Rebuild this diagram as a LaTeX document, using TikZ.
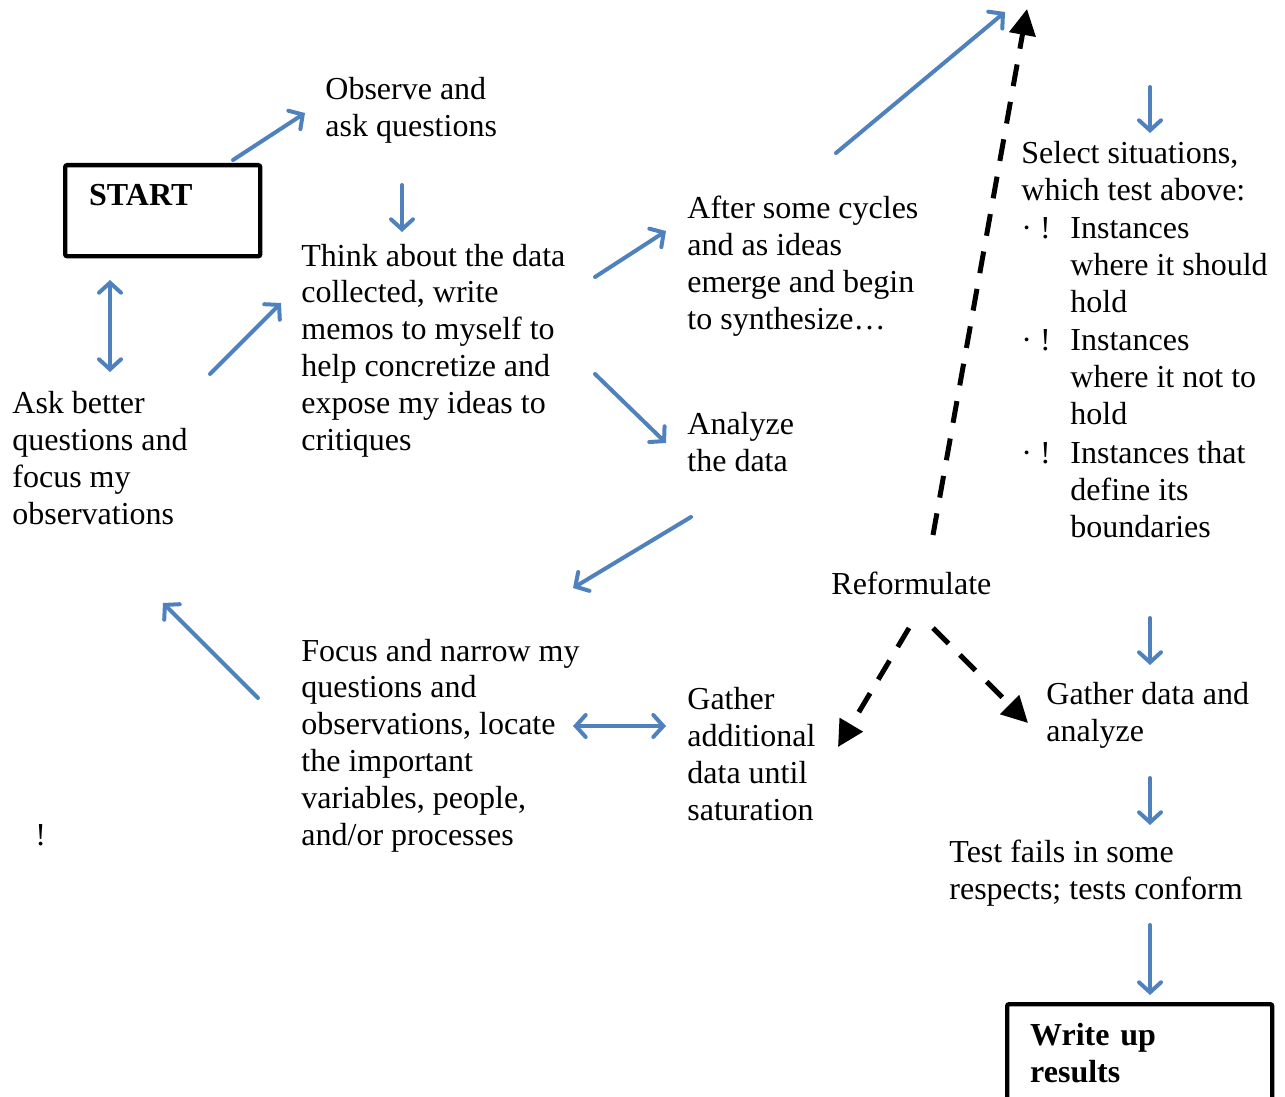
\documentclass[tikz,border=0pt]{standalone}
\usepackage{fontspec}
\setmainfont{Liberation Serif}
\usetikzlibrary{arrows.meta}

\definecolor{flowblue}{HTML}{4F81BD}
\tikzset{
  % placed at the baseline of the last line
  txt/.style={anchor=base west,inner sep=0pt,align=left,font=\fontsize{16}{18.4}\selectfont},
  frame/.style={draw,line width=2.2pt,rounded corners=1pt,anchor=north west,align=left,
    font=\fontsize{16}{18.4}\selectfont\bfseries},
  flow/.style={draw=flowblue,line width=2pt,line cap=round,
    -{Straight Barb[length=5pt,width=11pt,line cap=round]}},
  flowboth/.style={flow,{Straight Barb[length=5pt,width=11pt,line cap=round]}-{Straight Barb[length=5pt,width=11pt,line cap=round]}},
  retry/.style={draw,line width=2.5pt,dash pattern=on 11pt off 8pt,
    -{Triangle[length=13pt,width=13pt]}}
}

\begin{document}
\begin{tikzpicture}[x=0.5pt,y=-0.5pt]
  \useasboundingbox (0,0) rectangle (1285,1097);

  % boxes
  \node[frame,inner xsep=12pt,inner ysep=0pt,text width=73.5pt,text height=20pt,text depth=25.5pt]
    (start) at (63,163) {START};
  \node[frame,inner xsep=11.5pt,inner ysep=9.7pt,text width=109.5pt]
    (writeup) at (1005,1002) {Write up\\results};

  % texts
  \node[txt] (observe) at (325,136) {Observe and\\ask questions};
  \node[txt] (think) at (301,450) {Think about the data\\collected, write\\memos to myself to\\help concretize and\\expose my ideas to\\critiques};
  \node[txt] (after) at (687,329) {After some cycles\\and as ideas\\emerge and begin\\to synthesize\ldots};
  \node[txt] (analyze) at (687,471) {Analyze\\the data};
  \node[txt] (select) at (1021,200) {Select situations,\\which test above:};
  \node[txt] (mark1) at (1021,238) {·\ !};
  \node[txt] (item1) at (1070,312) {Instances\\where it should\\hold};
  \node[txt] (mark2) at (1021,350) {·\ !};
  \node[txt] (item2) at (1070,424) {Instances\\where it not to\\hold};
  \node[txt] (mark3) at (1021,463) {·\ !};
  \node[txt] (item3) at (1070,537) {Instances that\\define its\\boundaries};
  \node[txt] (ask) at (12,524) {Ask better\\questions and\\focus my\\observations};
  \node[txt] (reform) at (831,594) {Reformulate};
  \node[txt] (focus) at (301,845) {Focus and narrow my\\questions and\\observations, locate\\the important\\variables, people,\\and/or processes};
  \node[txt] (gather) at (687,820) {Gather\\additional\\data until\\saturation};
  \node[txt] (gatherdata) at (1046,741) {Gather data and\\analyze};
  \node[txt] (test) at (949,899) {Test fails in some\\respects; tests conform};
  \node[txt] (excl) at (35,845) {!};

  % arrow ends
  \coordinate (a1s) at (233,160);  \coordinate (a1e) at (305,113);
  \coordinate (a2s) at (402,185);  \coordinate (a2e) at (402,232);
  \coordinate (a3s) at (110,280);  \coordinate (a3e) at (110,372);
  \coordinate (a4s) at (210,374);  \coordinate (a4e) at (281,303);
  \coordinate (a5s) at (595,277);  \coordinate (a5e) at (666,231);
  \coordinate (a6s) at (595,374);  \coordinate (a6e) at (666,443);
  \coordinate (a7s) at (836,153);  \coordinate (a7e) at (1005,12);
  \coordinate (a8s) at (1150,87);  \coordinate (a8e) at (1150,133);
  \coordinate (a9s) at (691,517);  \coordinate (a9e) at (573,588);
  \coordinate (a10s) at (258,698); \coordinate (a10e) at (163,603);
  \coordinate (a11s) at (573,726); \coordinate (a11e) at (666,726);
  \coordinate (a12s) at (1150,618); \coordinate (a12e) at (1150,665);
  \coordinate (a13s) at (1150,778); \coordinate (a13e) at (1150,825);
  \coordinate (a14s) at (1150,925); \coordinate (a14e) at (1150,995);
  \coordinate (r1s) at (933,535);  \coordinate (r1e) at (1027,9);
  \coordinate (r2s) at (909,628);  \coordinate (r2e) at (838,747);
  \coordinate (r3s) at (933,628);  \coordinate (r3e) at (1028,723);

  % blue flow
  \foreach \k in {1,2,4,5,6,7,8,9,10,12,13,14}
    \draw[flow] (a\k s) -- (a\k e);
  \draw[flowboth] (a3s) -- (a3e);
  \draw[flowboth] (a11s) -- (a11e);

  % reformulate
  \foreach \k in {1,2,3}
    \draw[retry] (r\k s) -- (r\k e);
\end{tikzpicture}
\end{document}
